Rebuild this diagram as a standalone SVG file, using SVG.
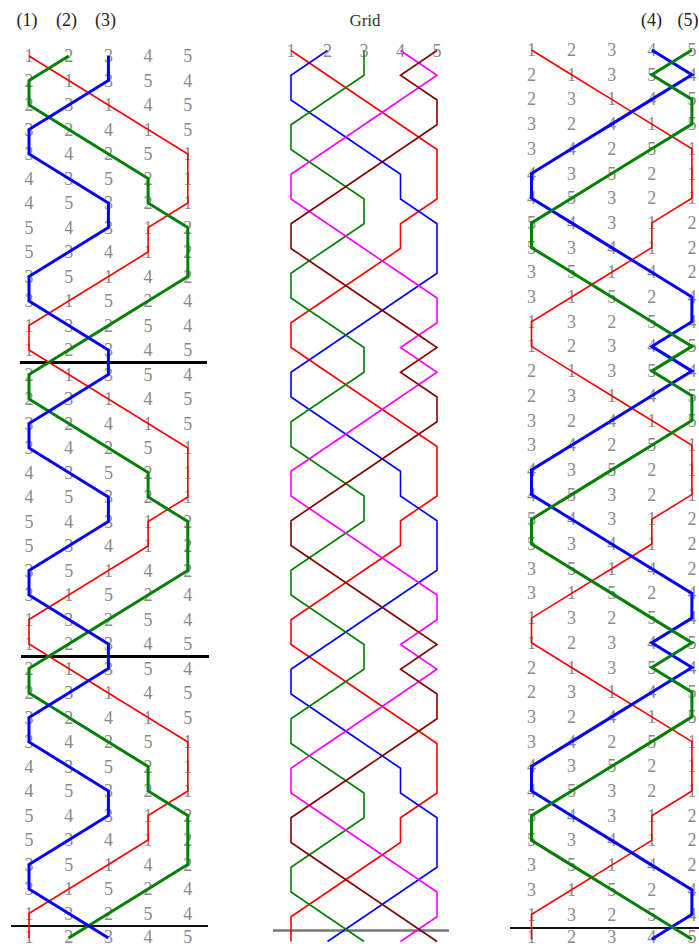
<svg xmlns="http://www.w3.org/2000/svg" xmlns:xlink="http://www.w3.org/1999/xlink" width="699" height="944" viewBox="0 0 699 944">
<style>
.d{font-family:"Liberation Serif","Times New Roman",serif;font-size:18px;fill:#8a8a8a;text-anchor:middle}
.h{font-family:"Liberation Serif","Times New Roman",serif;font-size:18px;fill:#222;text-anchor:middle}
polyline{fill:none;vector-effect:non-scaling-stroke;stroke-linejoin:miter}
.thin{stroke-width:1.6}
.thick{stroke-width:3}
.red{stroke:#ff0000}
.grn{stroke:#008000}
.blu{stroke:#0000ff}
.mag{stroke:#ff00ff}
.brn{stroke:#800000}
.sep{stroke:#000;stroke-width:3}
</style>
<defs>
<polyline id="p1" vector-effect="non-scaling-stroke" points="0,0 1,1 2,2 3,3 4,4 4,5 4,6 3,7 3,8 2,9 1,10 0,11 0,12 1,13 2,14 3,15 4,16 4,17 4,18 3,19 3,20 2,21 1,22 0,23 0,24 1,25 2,26 3,27 4,28 4,29 4,30 3,31 3,32 2,33 1,34 0,35 0,36"/>
<polyline id="p2" vector-effect="non-scaling-stroke" points="1,0 0,1 0,2 1,3 2,4 3,5 3,6 4,7 4,8 4,9 3,10 2,11 1,12 0,13 0,14 1,15 2,16 3,17 3,18 4,19 4,20 4,21 3,22 2,23 1,24 0,25 0,26 1,27 2,28 3,29 3,30 4,31 4,32 4,33 3,34 2,35 1,36"/>
<polyline id="p3" vector-effect="non-scaling-stroke" points="2,0 2,1 1,2 0,3 0,4 1,5 2,6 2,7 1,8 0,9 0,10 1,11 2,12 2,13 1,14 0,15 0,16 1,17 2,18 2,19 1,20 0,21 0,22 1,23 2,24 2,25 1,26 0,27 0,28 1,29 2,30 2,31 1,32 0,33 0,34 1,35 2,36"/>
<polyline id="p4" vector-effect="non-scaling-stroke" points="3,0 4,1 3,2 2,3 1,4 0,5 0,6 1,7 2,8 3,9 4,10 4,11 3,12 4,13 3,14 2,15 1,16 0,17 0,18 1,19 2,20 3,21 4,22 4,23 3,24 4,25 3,26 2,27 1,28 0,29 0,30 1,31 2,32 3,33 4,34 4,35 3,36"/>
<polyline id="p5" vector-effect="non-scaling-stroke" points="4,0 3,1 4,2 4,3 3,4 2,5 1,6 0,7 0,8 1,9 2,10 3,11 4,12 3,13 4,14 4,15 3,16 2,17 1,18 0,19 0,20 1,21 2,22 3,23 4,24 3,25 4,26 4,27 3,28 2,29 1,30 0,31 0,32 1,33 2,34 3,35 4,36"/>
</defs>
<rect width="699" height="944" fill="#fff"/>

<!-- Left panel -->
<g id="panel-left">
<g id="left-headers">
<text class="h" x="27" y="26">(1)</text>
<text class="h" x="66.5" y="26">(2)</text>
<text class="h" x="105.5" y="26">(3)</text>
</g>
<g id="left-rows" class="d">
<text x="29 68.7 108.4 148.1 187.8" y="62">12345</text>
<text x="29 68.7 108.4 148.1 187.8" y="86.5">21354</text>
<text x="29 68.7 108.4 148.1 187.8" y="111">23145</text>
<text x="29 68.7 108.4 148.1 187.8" y="135.5">32415</text>
<text x="29 68.7 108.4 148.1 187.8" y="160">34251</text>
<text x="29 68.7 108.4 148.1 187.8" y="184.5">43521</text>
<text x="29 68.7 108.4 148.1 187.8" y="209">45321</text>
<text x="29 68.7 108.4 148.1 187.8" y="233.5">54312</text>
<text x="29 68.7 108.4 148.1 187.8" y="258">53412</text>
<text x="29 68.7 108.4 148.1 187.8" y="282.5">35142</text>
<text x="29 68.7 108.4 148.1 187.8" y="307">31524</text>
<text x="29 68.7 108.4 148.1 187.8" y="331.5">13254</text>
<text x="29 68.7 108.4 148.1 187.8" y="356">12345</text>
<text x="29 68.7 108.4 148.1 187.8" y="380.5">21354</text>
<text x="29 68.7 108.4 148.1 187.8" y="405">23145</text>
<text x="29 68.7 108.4 148.1 187.8" y="429.5">32415</text>
<text x="29 68.7 108.4 148.1 187.8" y="454">34251</text>
<text x="29 68.7 108.4 148.1 187.8" y="478.5">43521</text>
<text x="29 68.7 108.4 148.1 187.8" y="503">45321</text>
<text x="29 68.7 108.4 148.1 187.8" y="527.5">54312</text>
<text x="29 68.7 108.4 148.1 187.8" y="552">53412</text>
<text x="29 68.7 108.4 148.1 187.8" y="576.5">35142</text>
<text x="29 68.7 108.4 148.1 187.8" y="601">31524</text>
<text x="29 68.7 108.4 148.1 187.8" y="625.5">13254</text>
<text x="29 68.7 108.4 148.1 187.8" y="650">12345</text>
<text x="29 68.7 108.4 148.1 187.8" y="674.5">21354</text>
<text x="29 68.7 108.4 148.1 187.8" y="699">23145</text>
<text x="29 68.7 108.4 148.1 187.8" y="723.5">32415</text>
<text x="29 68.7 108.4 148.1 187.8" y="748">34251</text>
<text x="29 68.7 108.4 148.1 187.8" y="772.5">43521</text>
<text x="29 68.7 108.4 148.1 187.8" y="797">45321</text>
<text x="29 68.7 108.4 148.1 187.8" y="821.5">54312</text>
<text x="29 68.7 108.4 148.1 187.8" y="846">53412</text>
<text x="29 68.7 108.4 148.1 187.8" y="870.5">35142</text>
<text x="29 68.7 108.4 148.1 187.8" y="895">31524</text>
<text x="29 68.7 108.4 148.1 187.8" y="919.5">13254</text>
<text x="29 68.7 108.4 148.1 187.8" y="942.5">12345</text>
</g>
<g id="left-separators">
<line class="sep" x1="20" y1="362.5" x2="207" y2="362.5"/>
<line class="sep" x1="21" y1="656.5" x2="209" y2="656.5"/>
<line x1="11" y1="926" x2="208" y2="926" stroke="#111" stroke-width="2"/>
</g>
<g id="left-connectors" transform="matrix(39.7 0 0 24.5 29 56)">
<use xlink:href="#p1" class="red thin"/>
<use xlink:href="#p2" class="grn thick"/>
<use xlink:href="#p3" class="blu thick"/>
</g>
</g>

<!-- Grid panel -->
<g id="panel-grid">
<text class="h" x="365" y="26" style="font-size:17px;fill:#333">Grid</text>
<text class="d" x="291 327.5 364 400.5 437" y="57">12345</text>
<line x1="273" y1="930.5" x2="449" y2="930.5" stroke="#777" stroke-width="2.5"/>
<g id="grid-connectors" transform="matrix(36.5 0 0 24.75 291 50.5)">
<use xlink:href="#p1" class="red thin"/>
<use xlink:href="#p2" class="blu thin"/>
<use xlink:href="#p3" class="grn thin"/>
<use xlink:href="#p4" class="mag thin"/>
<use xlink:href="#p5" class="brn thin"/>
</g>
</g>

<!-- Right panel -->
<g id="panel-right">
<g id="right-headers">
<text class="h" x="651.5" y="26">(4)</text>
<text class="h" x="688" y="26">(5)</text>
</g>
<g id="right-rows" class="d">
<text x="531.5 571.6 611.7 651.8 691.9" y="56">12345</text>
<text x="531.5 571.6 611.7 651.8 691.9" y="80.7">21354</text>
<text x="531.5 571.6 611.7 651.8 691.9" y="105.4">23145</text>
<text x="531.5 571.6 611.7 651.8 691.9" y="130.1">32415</text>
<text x="531.5 571.6 611.7 651.8 691.9" y="154.8">34251</text>
<text x="531.5 571.6 611.7 651.8 691.9" y="179.5">43521</text>
<text x="531.5 571.6 611.7 651.8 691.9" y="204.2">45321</text>
<text x="531.5 571.6 611.7 651.8 691.9" y="228.9">54312</text>
<text x="531.5 571.6 611.7 651.8 691.9" y="253.6">53412</text>
<text x="531.5 571.6 611.7 651.8 691.9" y="278.3">35142</text>
<text x="531.5 571.6 611.7 651.8 691.9" y="303">31524</text>
<text x="531.5 571.6 611.7 651.8 691.9" y="327.7">13254</text>
<text x="531.5 571.6 611.7 651.8 691.9" y="352.4">12345</text>
<text x="531.5 571.6 611.7 651.8 691.9" y="377.1">21354</text>
<text x="531.5 571.6 611.7 651.8 691.9" y="401.8">23145</text>
<text x="531.5 571.6 611.7 651.8 691.9" y="426.5">32415</text>
<text x="531.5 571.6 611.7 651.8 691.9" y="451.2">34251</text>
<text x="531.5 571.6 611.7 651.8 691.9" y="475.9">43521</text>
<text x="531.5 571.6 611.7 651.8 691.9" y="500.6">45321</text>
<text x="531.5 571.6 611.7 651.8 691.9" y="525.3">54312</text>
<text x="531.5 571.6 611.7 651.8 691.9" y="550">53412</text>
<text x="531.5 571.6 611.7 651.8 691.9" y="574.7">35142</text>
<text x="531.5 571.6 611.7 651.8 691.9" y="599.4">31524</text>
<text x="531.5 571.6 611.7 651.8 691.9" y="624.1">13254</text>
<text x="531.5 571.6 611.7 651.8 691.9" y="648.8">12345</text>
<text x="531.5 571.6 611.7 651.8 691.9" y="673.5">21354</text>
<text x="531.5 571.6 611.7 651.8 691.9" y="698.2">23145</text>
<text x="531.5 571.6 611.7 651.8 691.9" y="722.9">32415</text>
<text x="531.5 571.6 611.7 651.8 691.9" y="747.6">34251</text>
<text x="531.5 571.6 611.7 651.8 691.9" y="772.3">43521</text>
<text x="531.5 571.6 611.7 651.8 691.9" y="797">45321</text>
<text x="531.5 571.6 611.7 651.8 691.9" y="821.7">54312</text>
<text x="531.5 571.6 611.7 651.8 691.9" y="846.4">53412</text>
<text x="531.5 571.6 611.7 651.8 691.9" y="871.1">35142</text>
<text x="531.5 571.6 611.7 651.8 691.9" y="895.8">31524</text>
<text x="531.5 571.6 611.7 651.8 691.9" y="920.5">13254</text>
<text x="531.5 571.6 611.7 651.8 691.9" y="942.5">12345</text>
</g>
<line x1="510" y1="928" x2="699" y2="928" stroke="#111" stroke-width="2"/>
<g id="right-connectors" transform="matrix(40.1 0 0 24.7 531.5 50)">
<use xlink:href="#p1" class="red thin"/>
<use xlink:href="#p4" class="blu thick"/>
<use xlink:href="#p5" class="grn thick"/>
</g>
</g>
</svg>
